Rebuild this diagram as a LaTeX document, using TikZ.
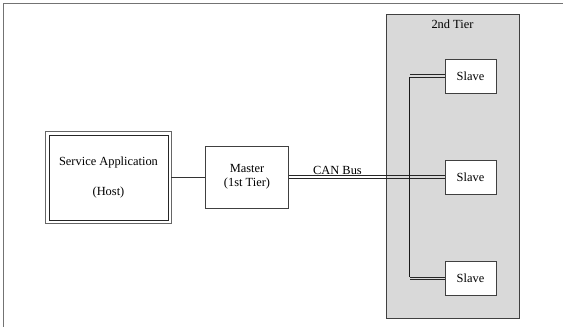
\documentclass[tikz,border=0pt]{standalone}
\usepackage{fontspec}
\setmainfont{Liberation Serif}
\begin{document}
\begin{tikzpicture}[x=1pt,y=-1pt,
  font=\fontsize{12.4}{14}\selectfont,
  box/.style={draw=black!75, fill=white, line width=0.8pt, inner sep=0pt, align=center},
  slavebox/.style={box, minimum width=51pt, minimum height=34pt},
  bus/.style={draw=black!85, line width=0.9pt},
  wire/.style={draw=black!80, line width=0.8pt}]
\useasboundingbox (0,0) rectangle (563,327);

% page frame (top and left edges)
\draw[black!55, line width=1.3pt] (3.5,327) -- (3.5,3.5) -- (563,3.5);

% second tier area
\node[draw=black!75, fill=black!15, line width=0.8pt, inner sep=0pt,
      minimum width=133pt, minimum height=304pt] (tier) at (452.5,166) {};
\node (tierlabel) at (452.5,24.5) {2nd Tier};

% host with double frame
\node[box, draw=black!60, minimum width=126pt, minimum height=92pt] (hostframe) at (108,177) {};
\node[box, draw=black!85, minimum width=119pt, minimum height=85pt] (host) at (108.5,177.5)
  {Service Application\\[16pt](Host)};

% master
\node[box, minimum width=83pt, minimum height=62pt] (master) at (247,177) {Master\\(1st Tier)};

% slaves
\node[slavebox] (slave1) at (470.5,76) {Slave};
\node[slavebox] (slave2) at (470.5,177) {Slave};
\node[slavebox] (slave3) at (470.5,278.5) {Slave};

% connections: the CAN bus is a pair of parallel wires
\coordinate (busx) at (409.5,0);
\draw[wire] (hostframe.east) -- (master.west);
\draw[bus] ([yshift=-1.1pt]master.east) -- ([yshift=-1.1pt]slave2.west);
\draw[bus] ([yshift=1.1pt]master.east) -- ([yshift=1.1pt]slave2.west);
\node[inner sep=1pt, anchor=south] (canlabel) at (337.5,175.5) {CAN Bus};
\foreach \s in {slave1,slave3}{
  \draw[bus] ([yshift=-1.1pt]\s.west) -- ([yshift=-1.1pt]\s.west -| busx);
  \draw[bus] ([yshift=1.1pt]\s.west) -- ([yshift=1.1pt]\s.west -| busx);
}
\draw[draw=black!90, line width=1.5pt] ([yshift=-1.1pt]slave1.west -| busx) -- ([yshift=1.1pt]slave3.west -| busx);
\end{tikzpicture}
\end{document}
